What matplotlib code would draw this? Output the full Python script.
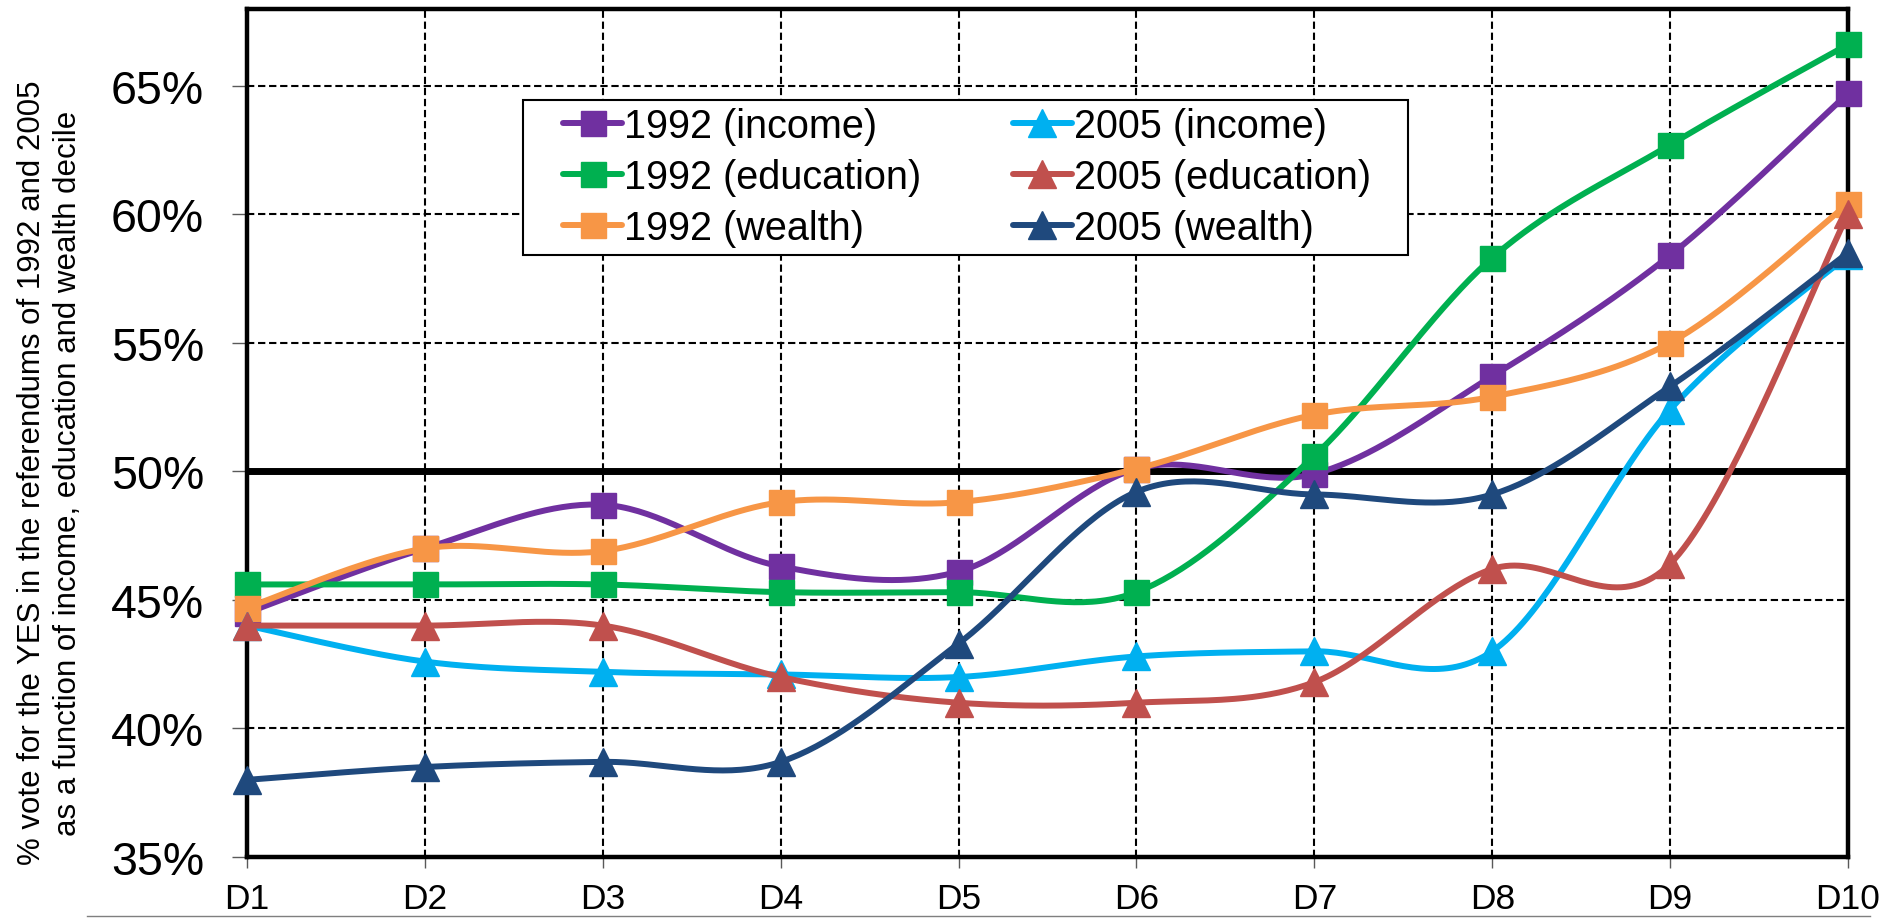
import numpy as np
import matplotlib.pyplot as plt
from matplotlib.lines import Line2D
from matplotlib.patches import Rectangle
from matplotlib.ticker import FuncFormatter

plt.rcParams['font.family'] = ['Liberation Sans', 'DejaVu Sans']

deciles = ['D1', 'D2', 'D3', 'D4', 'D5', 'D6', 'D7', 'D8', 'D9', 'D10']

# % YES vote
income_1992 = [44.5, 47.0, 48.7, 46.3, 46.1, 50.1, 49.9, 53.7, 58.4, 64.7]
education_1992 = [45.6, 45.6, 45.6, 45.3, 45.3, 45.3, 50.6, 58.3, 62.7, 66.6]
wealth_1992 = [44.7, 47.0, 46.9, 48.8, 48.8, 50.1, 52.2, 52.9, 55.0, 60.4]
income_2005 = [44.0, 42.6, 42.2, 42.1, 42.0, 42.8, 43.0, 43.0, 52.4, 58.4]
education_2005 = [44.0, 44.0, 44.0, 42.0, 41.0, 41.0, 41.8, 46.2, 46.4, 60.0]
wealth_2005 = [38.0, 38.5, 38.7, 38.7, 43.3, 49.2, 49.1, 49.1, 53.3, 58.5]

series = [
    ('1992 (income)', income_1992, '#7030A0', 's'),
    ('1992 (education)', education_1992, '#00B050', 's'),
    ('1992 (wealth)', wealth_1992, '#F79646', 's'),
    ('2005 (income)', income_2005, '#00B0F0', '^'),
    ('2005 (education)', education_2005, '#C0504D', '^'),
    ('2005 (wealth)', wealth_2005, '#1F497D', '^'),
]


def smooth(x, y, n=40):
    # Excel-like smoothed line: cubic Bezier through the points (Catmull-Rom controls)
    pts = np.column_stack([x, y]).astype(float)
    padded = np.vstack([pts[0], pts, pts[-1]])
    t = np.linspace(0, 1, n + 1)[1:, None]
    out = [pts[:1]]
    for i in range(len(pts) - 1):
        p0, p1, p2, p3 = padded[i], padded[i + 1], padded[i + 2], padded[i + 3]
        c1 = p1 + (p2 - p0) / 6.0
        c2 = p2 - (p3 - p1) / 6.0
        seg = ((1 - t) ** 3) * p1 + 3 * ((1 - t) ** 2) * t * c1 + 3 * (1 - t) * t ** 2 * c2 + t ** 3 * p2
        out.append(seg)
    out = np.vstack(out)
    return out[:, 0], out[:, 1]


W, H = 1894, 920
fig = plt.figure(figsize=(W / 100, H / 100), dpi=100)
ax = fig.add_axes([247 / W, 1 - 858 / H, (1848 - 247) / W, (858 - 9.5) / H])

x = np.arange(len(deciles))
lw = 4.3
for k, (label, vals, color, marker) in enumerate(series):
    sx, sy = smooth(x, vals)
    ax.plot(sx, sy, color=color, lw=lw, solid_capstyle='round', zorder=4 + k)
    ax.plot(x, vals, linestyle='none', marker=marker, markersize=18 if marker == 's' else 20,
            color=color, markeredgecolor=color, mew=1, zorder=4 + k, clip_on=False)

ax.axhline(50, color='black', lw=5, zorder=3)

ax.set_xlim(0, len(deciles) - 1)
ax.set_ylim(35, 68)
ax.set_xticks(x)
ax.set_xticklabels(deciles)
ax.set_yticks(np.arange(35, 66, 5))
ax.yaxis.set_major_formatter(FuncFormatter(lambda v, p: f'{v:.0f}%'))

ax.grid(True, color='black', linestyle=(0, (3.5, 1.8)), lw=1.5, zorder=1)
ax.set_axisbelow(True)
for s in ax.spines.values():
    s.set_linewidth(3.2)
    s.set_color('black')
    s.set_zorder(3)

ax.tick_params(axis='y', labelsize=33.5, length=11, width=1, color='#595959', pad=20)
ax.tick_params(axis='x', labelsize=25.5, length=8, width=1, color='#595959', pad=10)

fig.text(50 / W, 1 - 473 / H,
         '% vote for the YES in the referendums of 1992 and 2005\n'
         'as a function of income, education and wealth decile',
         rotation=90, ha='center', va='center', multialignment='center',
         fontsize=22.5, linespacing=1.25)

# legend: frameless, with its own box drawn behind it
handles = [Line2D([0], [0], color=c, lw=lw, marker=m, markersize=18 if m == 's' else 20,
                  solid_capstyle='round', markeredgecolor=c)
           for _, _, c, m in series]
labels = [s[0] for s in series]
box = Rectangle((523 / W, 1 - 256 / H), (1408 - 523) / W, (256 - 101) / H,
                transform=fig.transFigure, facecolor='white',
                edgecolor='black', lw=1.5, zorder=10)
fig.add_artist(box)
leg = fig.legend(handles, labels, ncols=2, loc='upper left',
                 bbox_to_anchor=(563 / W, 1 - 108 / H), frameon=False,
                 fontsize=28.5, handlelength=1.5, handletextpad=0.05,
                 columnspacing=2.3, labelspacing=0.33, borderpad=0, borderaxespad=0)
leg.set_zorder(11)

fig.add_artist(Line2D([87 / W, 1870 / W], [1 - 917 / H] * 2, transform=fig.transFigure,
                      color='#7f7f7f', lw=1))

fig.savefig('out.png', dpi=100)
